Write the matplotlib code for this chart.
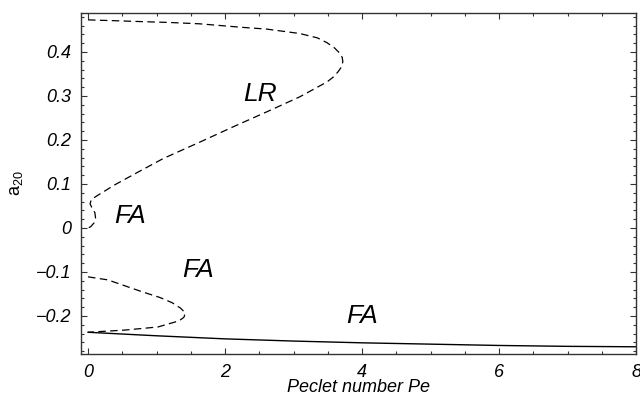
import matplotlib
matplotlib.use("Agg")
import matplotlib.pyplot as plt
from matplotlib.ticker import MultipleLocator, FuncFormatter

# upper dashed branch (LR loop plus small loop near Pe=0)
upper_pe = [0.00, 0.40, 0.79, 1.20, 1.63, 2.25, 2.61, 3.09, 3.35, 3.49, 3.60,
            3.67, 3.71, 3.72, 3.70, 3.65, 3.58, 3.49, 3.09, 2.61, 2.12, 1.63,
            1.10, 0.73, 0.39, 0.15, 0.05, 0.03, 0.06, 0.10, 0.11, 0.09, 0.04, 0.00]
upper_a20 = [0.473, 0.471, 0.469, 0.467, 0.464, 0.456, 0.452, 0.442, 0.432,
             0.421, 0.409, 0.398, 0.388, 0.378, 0.366, 0.355, 0.343, 0.332,
             0.298, 0.264, 0.230, 0.195, 0.158, 0.127, 0.098, 0.075, 0.065,
             0.055, 0.045, 0.035, 0.023, 0.012, 0.003, 0.000]

# lower dashed branch
lower_pe = [0.00, 0.29, 0.79, 1.05, 1.23, 1.35, 1.42, 1.40, 1.33, 1.02, 0.54, 0.00]
lower_a20 = [-0.111, -0.118, -0.145, -0.158, -0.170, -0.182, -0.193, -0.203,
             -0.211, -0.225, -0.232, -0.237]

# solid stable branch
solid_pe = [0, 1, 2, 3, 4, 5, 6, 7, 8]
solid_a20 = [-0.237, -0.245, -0.252, -0.257, -0.261, -0.264, -0.267, -0.269, -0.270]

# region labels
region_text = ["LR", "FA", "FA", "FA"]
region_pe = [2.51, 0.61, 1.61, 4.0]
region_a20 = [0.305, 0.027, -0.096, -0.200]

plt.rcParams['font.family'] = ['Liberation Sans', 'DejaVu Sans']
plt.rcParams['mathtext.fontset'] = 'custom'
plt.rcParams['mathtext.rm'] = 'Liberation Sans'
plt.rcParams['mathtext.it'] = 'Liberation Sans:italic'


def main():
    fig = plt.figure(figsize=(6.4, 4.0), dpi=100)
    ax = fig.add_axes([0.1266, 0.115, 0.8672, 0.8525])

    ax.plot(upper_pe, upper_a20, color='black', lw=0.9, dashes=(6, 3.5))
    ax.plot(lower_pe, lower_a20, color='black', lw=0.9, dashes=(6, 3.5))
    ax.plot(solid_pe, solid_a20, color='black', lw=1.0)

    for t, x, y in zip(region_text, region_pe, region_a20):
        ax.text(x, y, t, fontsize=19, style='italic', ha='center', va='center')

    ax.set_xlim(-0.102, 8.0)
    ax.set_ylim(-0.2864, 0.4886)

    ax.xaxis.set_major_locator(MultipleLocator(2))
    ax.xaxis.set_minor_locator(MultipleLocator(0.5))
    ax.yaxis.set_major_locator(MultipleLocator(0.1))
    ax.yaxis.set_minor_locator(MultipleLocator(0.02))

    def yfmt(v, pos):
        if abs(v) < 1e-9:
            return '0'
        s = '%.1f' % abs(v)
        return ('\u2212' + s) if v < 0 else s

    ax.xaxis.set_major_formatter(FuncFormatter(lambda v, p: '%d' % round(v)))
    ax.yaxis.set_major_formatter(FuncFormatter(yfmt))

    ax.tick_params(which='both', direction='in', top=True, right=True,
                   color='#333333', width=0.8)
    ax.tick_params(which='major', length=4, labelsize=13, pad=7)
    ax.tick_params(which='minor', length=2)
    for lab in ax.get_xticklabels() + ax.get_yticklabels():
        lab.set_style('italic')

    for sp in ax.spines.values():
        sp.set_color('#333333')
        sp.set_linewidth(1.0)

    ax.set_xlabel('Peclet number Pe', fontsize=13, style='italic', labelpad=-1)
    ax.set_ylabel(r'$\mathregular{a_{20}}$', fontsize=13, labelpad=8)

    fig.savefig('out.png', dpi=100)


if __name__ == '__main__':
    main()
